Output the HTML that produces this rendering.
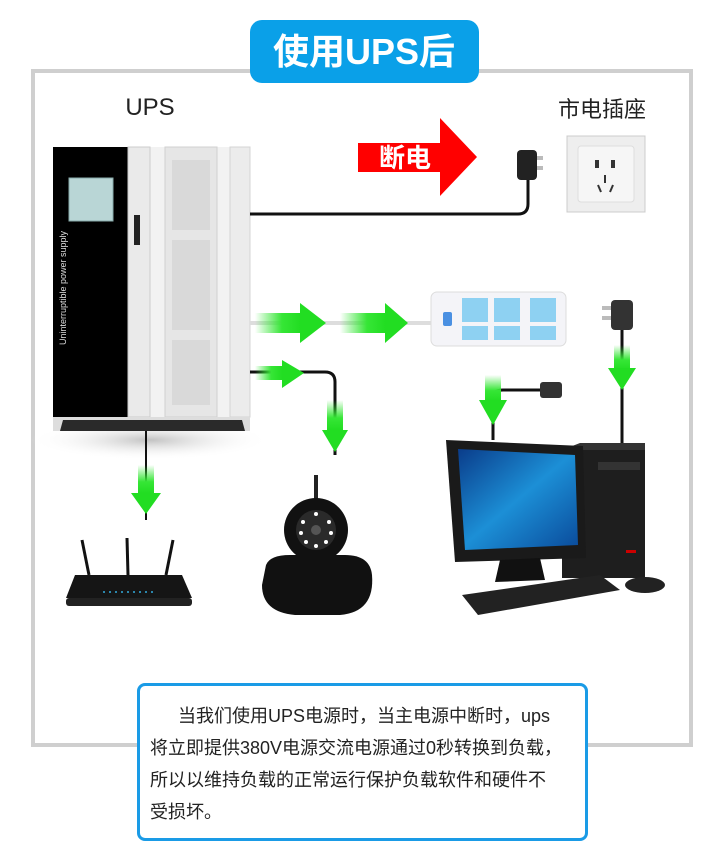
<!DOCTYPE html>
<html><head><meta charset="utf-8"><style>
html,body{margin:0;padding:0;background:#fff;}
body{width:720px;height:865px;position:relative;overflow:hidden;font-family:"Liberation Sans","Noto Sans CJK SC",sans-serif;}
.box{position:absolute;left:137px;top:683px;width:445px;height:152px;border:3px solid #1a9be6;border-radius:8px;background:#fff;}
.box div{position:absolute;left:10px;font-size:18px;line-height:20px;color:#222;white-space:nowrap;}
</style></head><body>
<svg width="720" height="865" style="position:absolute;left:0;top:0">
<defs>
<linearGradient id="g" x1="0" y1="0" x2="1" y2="0"><stop offset="0" stop-color="#36e636" stop-opacity="0"/><stop offset="0.6" stop-color="#36e636"/><stop offset="1" stop-color="#22dd22"/></linearGradient>
<linearGradient id="gv" x1="0" y1="0" x2="0" y2="1"><stop offset="0" stop-color="#36e636" stop-opacity="0"/><stop offset="0.6" stop-color="#36e636"/><stop offset="1" stop-color="#22dd22"/></linearGradient>
<linearGradient id="scr" x1="0" y1="0" x2="1" y2="1"><stop offset="0" stop-color="#0a3c8a"/><stop offset="0.5" stop-color="#1c8fd6"/><stop offset="1" stop-color="#0a4a9a"/></linearGradient>
<radialGradient id="sh" cx="0.5" cy="0.5" r="0.5"><stop offset="0" stop-color="#999" stop-opacity="0.6"/><stop offset="1" stop-color="#fff" stop-opacity="0"/></radialGradient>
</defs>
<rect x="33" y="71" width="658" height="674" fill="none" stroke="#cfcfcf" stroke-width="4"/>
<rect x="250" y="20" width="229" height="63" rx="12" fill="#0aa0e8"/>
<text x="364" y="64" text-anchor="middle" font-size="36" font-weight="bold" fill="#fff" font-family="Liberation Sans,Noto Sans CJK SC,sans-serif">使用UPS后</text>
<text x="150" y="115" text-anchor="middle" font-size="24" fill="#222">UPS</text>
<text x="602" y="117" text-anchor="middle" font-size="22" fill="#222" font-family="Liberation Sans,Noto Sans CJK SC,sans-serif">市电插座</text>
<ellipse cx="150" cy="440" rx="120" ry="20" fill="url(#sh)"/>
<rect x="53" y="147" width="197" height="270" fill="#f2f2f2"/>
<rect x="53" y="147" width="75" height="270" fill="#000"/>
<rect x="128" y="147" width="22" height="270" fill="#eaeaea" stroke="#ccc"/>
<rect x="165" y="147" width="52" height="270" fill="#e6e6e6" stroke="#d0d0d0"/>
<rect x="172" y="160" width="38" height="70" fill="#d9d9d9"/>
<rect x="172" y="240" width="38" height="90" fill="#d9d9d9"/>
<rect x="172" y="340" width="38" height="65" fill="#d9d9d9"/>
<rect x="230" y="147" width="20" height="270" fill="#ececec" stroke="#d4d4d4"/>
<rect x="69" y="178" width="44" height="43" fill="#b9d6d6" stroke="#8aa"/>
<rect x="134" y="215" width="6" height="30" fill="#222"/>
<text transform="translate(66,345) rotate(-90)" font-size="9" fill="#ddd">Uninterruptible power supply</text>
<rect x="53" y="417" width="197" height="14" fill="#ddd"/>
<polygon points="60,431 245,431 242,420 63,420" fill="#2a2a2a"/>
<polygon points="358,143 440,143 440,118 477,157 440,196 440,172 358,172" fill="#f00"/>
<text x="405" y="167" text-anchor="middle" font-size="26" font-weight="bold" fill="#fff" font-family="Liberation Sans,Noto Sans CJK SC,sans-serif">断电</text>
<rect x="567" y="136" width="78" height="76" fill="#eee" stroke="#ccc"/>
<rect x="578" y="146" width="56" height="56" rx="3" fill="#f6f6f6" stroke="#ddd"/>
<rect x="595" y="160" width="4" height="8" fill="#333"/><rect x="611" y="160" width="4" height="8" fill="#333"/>
<rect x="604" y="175" width="2" height="8" fill="#333"/>
<line x1="598" y1="185" x2="601" y2="192" stroke="#333" stroke-width="2"/><line x1="613" y1="185" x2="610" y2="192" stroke="#333" stroke-width="2"/>
<path d="M250,214 H518 Q528,214 528,204 V180" fill="none" stroke="#111" stroke-width="3"/>
<rect x="517" y="150" width="20" height="30" rx="4" fill="#222"/>
<rect x="537" y="156" width="6" height="4" fill="#bbb"/><rect x="537" y="166" width="6" height="4" fill="#bbb"/>
<line x1="250" y1="323" x2="432" y2="323" stroke="#ddd" stroke-width="4"/>
<rect x="255" y="313" width="45" height="20" fill="url(#g)"/><polygon points="300,303 326,323 300,343" fill="#22dd22"/>
<rect x="340" y="313" width="45" height="20" fill="url(#g)"/><polygon points="385,303 408,323 385,343" fill="#22dd22"/>
<rect x="431" y="292" width="135" height="54" rx="6" fill="#f4f4f8" stroke="#ddd"/>
<rect x="443" y="312" width="9" height="14" rx="2" fill="#4a90e2"/>
<rect x="462" y="298" width="26" height="24" fill="#8ed1f2"/><rect x="494" y="298" width="26" height="24" fill="#8ed1f2"/><rect x="530" y="298" width="26" height="24" fill="#8ed1f2"/>
<rect x="462" y="326" width="26" height="14" fill="#8ed1f2"/><rect x="494" y="326" width="26" height="14" fill="#8ed1f2"/><rect x="530" y="326" width="26" height="14" fill="#8ed1f2"/>
<path d="M250,372 H325 Q335,372 335,382 V455" fill="none" stroke="#111" stroke-width="3"/>
<rect x="255" y="366" width="27" height="14" fill="url(#g)"/><polygon points="282,360 304,373 282,388" fill="#22dd22"/>
<rect x="327" y="400" width="16" height="30" fill="url(#gv)"/><polygon points="322,430 348,430 335,452" fill="#22dd22"/>
<line x1="146" y1="431" x2="146" y2="520" stroke="#111" stroke-width="2"/>
<rect x="138" y="465" width="16" height="28" fill="url(#gv)"/><polygon points="131,493 161,493 146,514" fill="#22dd22"/>
<line x1="82" y1="540" x2="89" y2="575" stroke="#111" stroke-width="3"/>
<line x1="127" y1="538" x2="128" y2="575" stroke="#111" stroke-width="3"/>
<line x1="173" y1="540" x2="166" y2="575" stroke="#111" stroke-width="3"/>
<polygon points="75,575 182,575 192,598 66,598" fill="#151515"/>
<rect x="66" y="598" width="126" height="8" rx="3" fill="#222"/>
<g fill="#3ad">
<circle cx="104" cy="592" r="1"/><circle cx="110" cy="592" r="1"/><circle cx="116" cy="592" r="1"/><circle cx="122" cy="592" r="1"/><circle cx="128" cy="592" r="1"/><circle cx="134" cy="592" r="1"/><circle cx="140" cy="592" r="1"/><circle cx="146" cy="592" r="1"/><circle cx="152" cy="592" r="1"/></g>
<line x1="316" y1="475" x2="316" y2="525" stroke="#222" stroke-width="4"/>
<circle cx="316" cy="530" r="32" fill="#111"/>
<circle cx="316" cy="530" r="20" fill="#2a2a2a"/>
<circle cx="316" cy="530" r="5" fill="#555"/>
<g fill="#fff"><circle cx="303" cy="522" r="2"/><circle cx="329" cy="522" r="2"/><circle cx="301" cy="533" r="2"/><circle cx="331" cy="533" r="2"/><circle cx="306" cy="542" r="2"/><circle cx="326" cy="542" r="2"/><circle cx="316" cy="546" r="2"/><circle cx="316" cy="514" r="2"/></g>
<path d="M266,565 Q270,555 290,555 H345 Q370,555 372,575 Q375,612 340,615 H295 Q262,612 262,585 Z" fill="#111"/>
<path d="M493,440 V398 Q493,390 503,390 H545" fill="none" stroke="#111" stroke-width="3"/>
<rect x="540" y="382" width="22" height="16" rx="3" fill="#333"/>
<rect x="485" y="375" width="16" height="26" fill="url(#gv)"/><polygon points="479,400 507,400 493,425" fill="#22dd22"/>
<line x1="622" y1="330" x2="622" y2="450" stroke="#111" stroke-width="3"/>
<rect x="611" y="300" width="22" height="30" rx="4" fill="#333"/>
<rect x="602" y="306" width="9" height="4" fill="#bbb"/><rect x="602" y="316" width="9" height="4" fill="#bbb"/>
<rect x="614" y="345" width="16" height="25" fill="url(#gv)"/><polygon points="608,368 636,368 622,390" fill="#22dd22"/>
<rect x="562" y="450" width="83" height="128" fill="#1e1e1e"/>
<polygon points="562,450 645,450 645,443 580,443" fill="#333"/>
<rect x="598" y="462" width="42" height="8" fill="#333"/>
<rect x="626" y="550" width="10" height="3" fill="#c00"/>
<polygon points="446,440 583,446 586,558 455,562" fill="#1a1a1a"/>
<polygon points="458,449 575,455 578,545 465,550" fill="url(#scr)"/>
<polygon points="500,560 540,558 545,580 495,582" fill="#111"/>
<polygon points="462,595 600,575 620,590 478,615" fill="#222"/>
<ellipse cx="645" cy="585" rx="20" ry="8" fill="#222"/>
</svg>
<div class="box">
<div style="top:20px;left:38px">当我们使用UPS电源时，当主电源中断时，ups</div>
<div style="top:52px">将立即提供380V电源交流电源通过0秒转换到负载，</div>
<div style="top:84px">所以以维持负载的正常运行保护负载软件和硬件不</div>
<div style="top:116px">受损坏。</div>
</div>
</body></html>
